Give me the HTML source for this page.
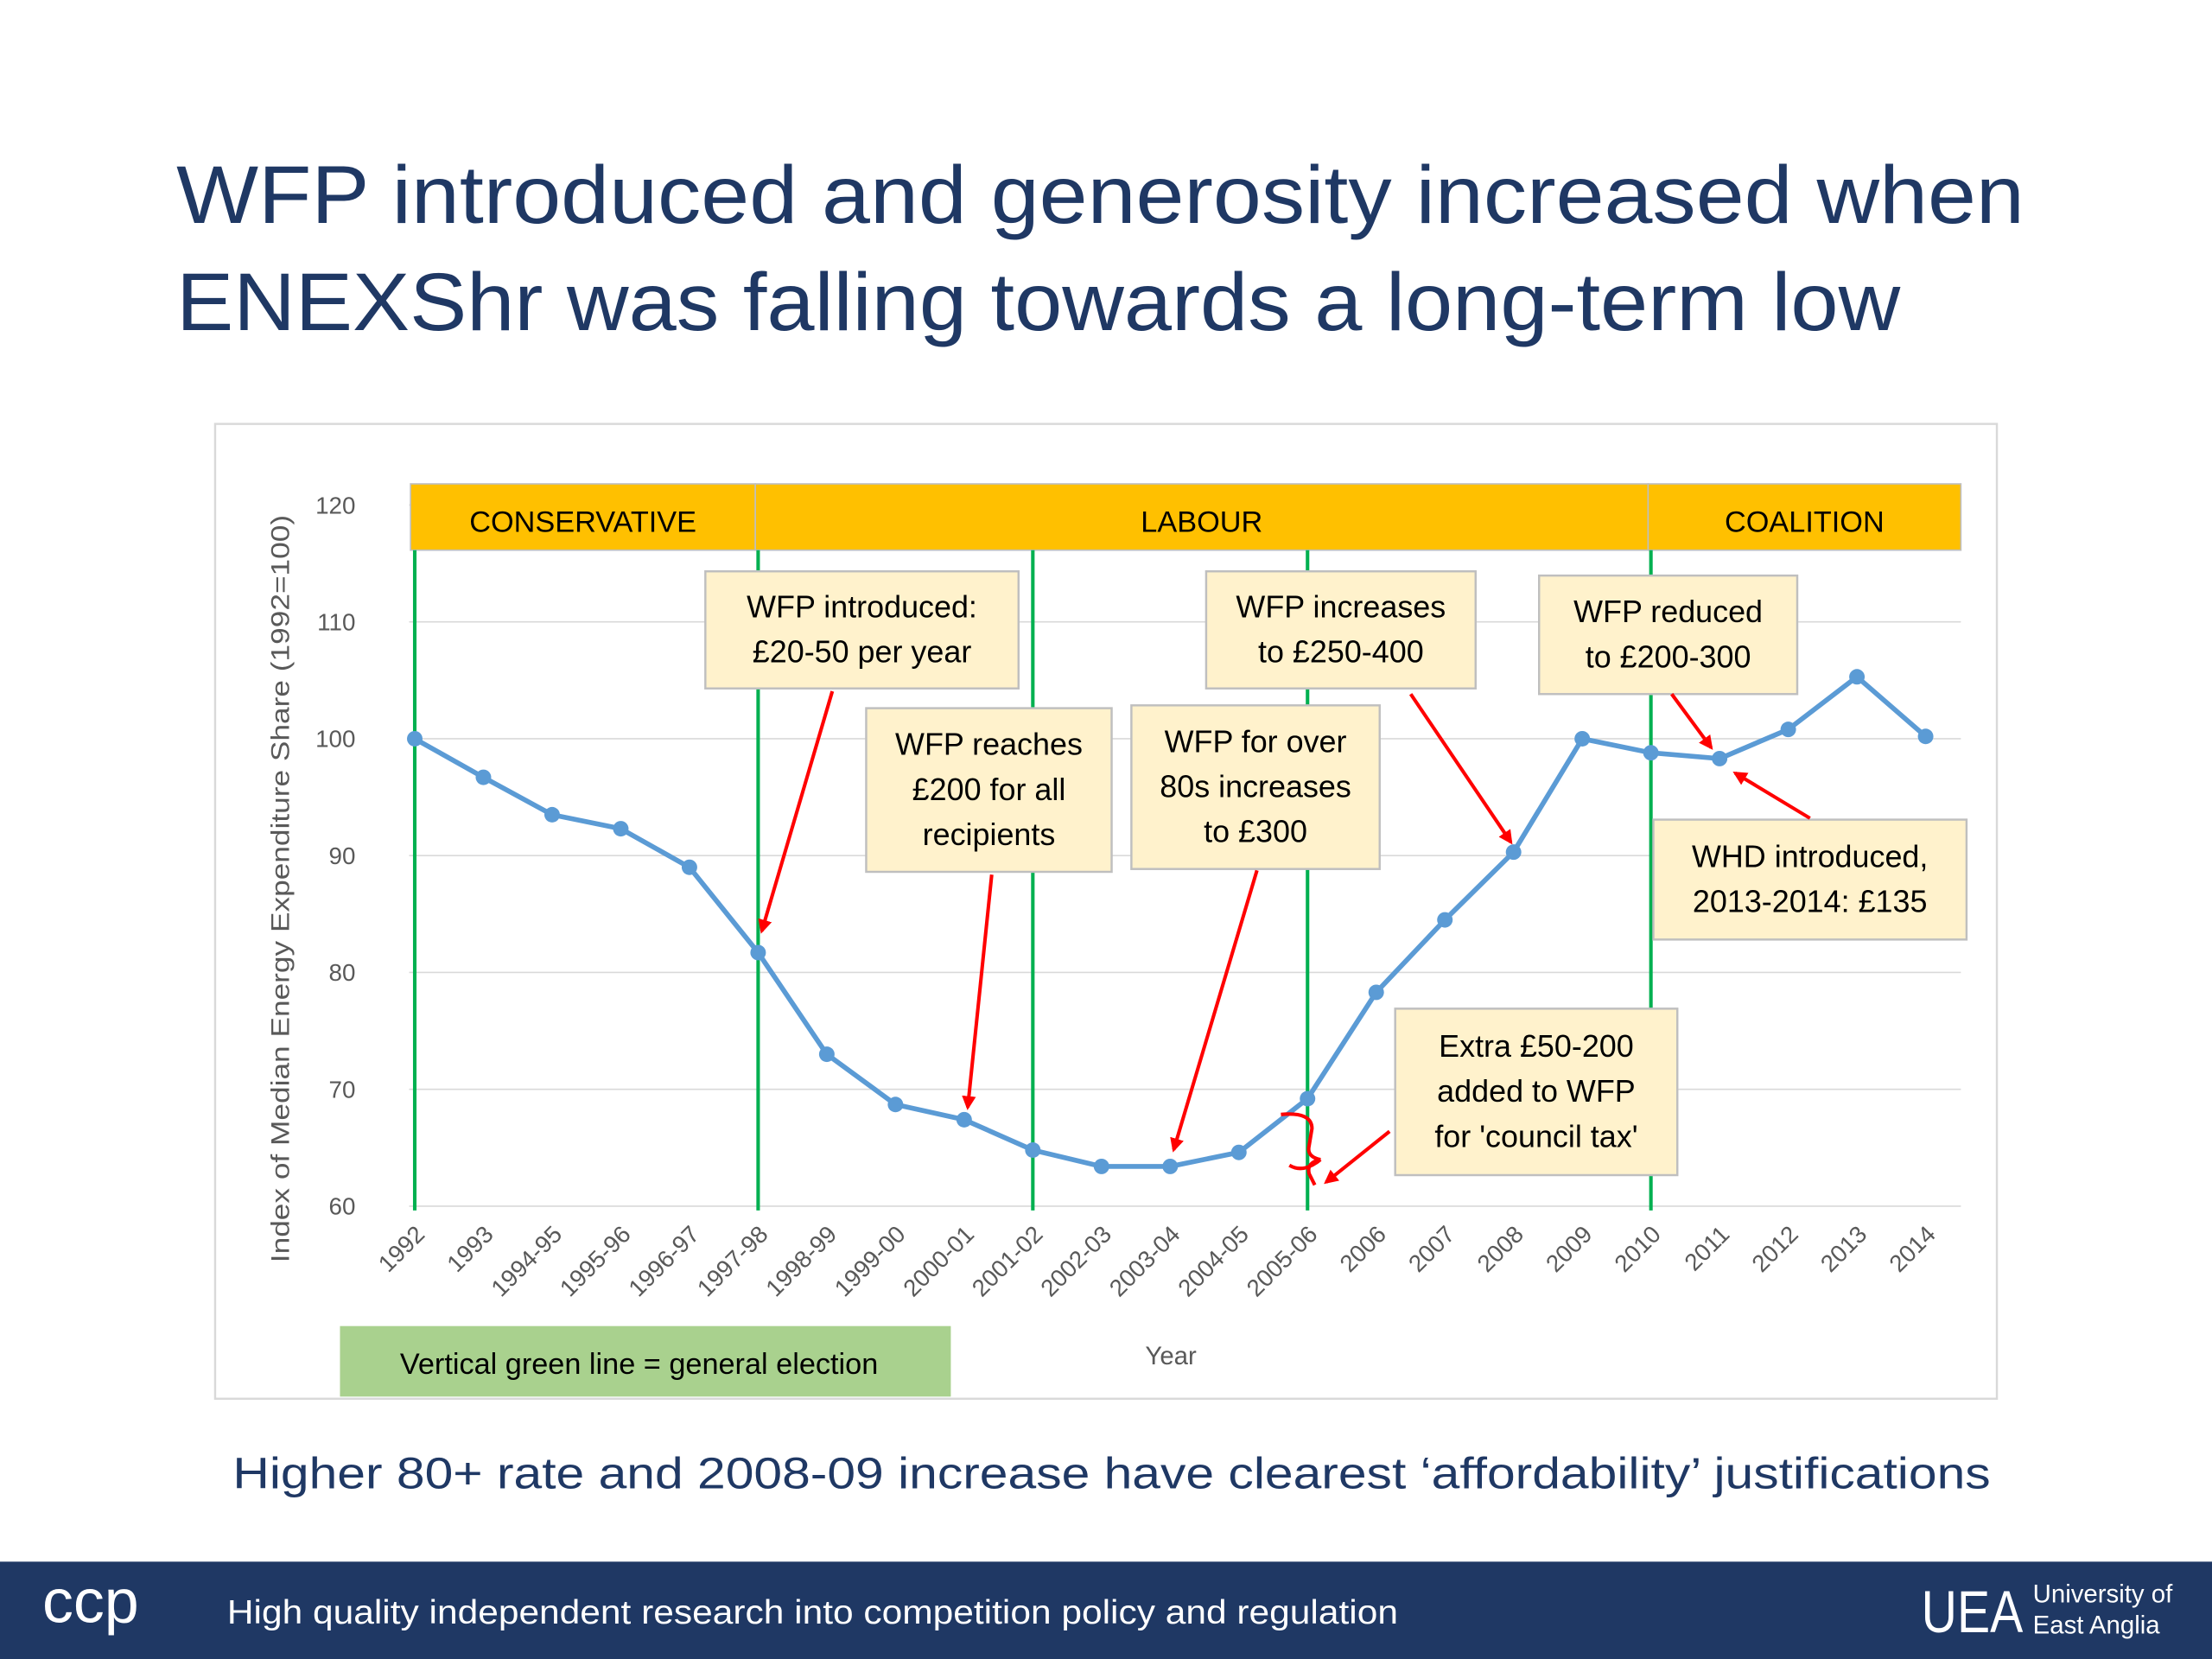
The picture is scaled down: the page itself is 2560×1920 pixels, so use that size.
<!DOCTYPE html>
<html><head><meta charset="utf-8"><style>
html,body{margin:0;padding:0;background:#fff;}
svg{display:block;}
text{font-family:"Liberation Sans",sans-serif;}
</style></head><body>
<svg id="chart" width="2560" height="1920" viewBox="0 0 1568 1176" xmlns="http://www.w3.org/2000/svg">
<defs>
<marker id="ah" markerWidth="10" markerHeight="10" refX="8" refY="5" orient="auto" markerUnits="userSpaceOnUse"><path d="M0,0 L10,5 L0,10 z" fill="#ff0000"/></marker>
</defs>
<text x="125" y="158" font-size="58" fill="#1f3864" textLength="1310" lengthAdjust="spacingAndGlyphs">WFP introduced and generosity increased when</text>
<text x="125" y="234" font-size="58" fill="#1f3864" textLength="1222" lengthAdjust="spacingAndGlyphs">ENEXShr was falling towards a long-term low</text>
<rect x="152.5" y="300.5" width="1263" height="691" fill="#fff" stroke="#d9d9d9" stroke-width="1.5"/>
<g id="grid"></g>
<g id="yticks"></g>
<g id="bands"></g>
<g id="elections"></g>
<g id="series"></g>
<g id="xticks"></g>
<text transform="translate(205,630) rotate(-90)" text-anchor="middle" font-size="18" fill="#595959" textLength="530" lengthAdjust="spacingAndGlyphs">Index of Median Energy Expenditure Share (1992=100)</text>
<text x="830" y="967" text-anchor="middle" font-size="18" fill="#595959">Year</text>
<rect x="241" y="940" width="433" height="50" fill="#a9d18e"/>
<text x="453" y="974" text-anchor="middle" font-size="21" fill="#000">Vertical green line = general election</text>
<g id="notes"></g>
<path d="M908,790 Q930,788 930,800 L928,812 Q926,820 936,822 Q926,824 928,832 L932,840 M914,826 Q924,832 936,822" fill="none" stroke="#ff0000" stroke-width="2.5"/>
<text x="788" y="1055" text-anchor="middle" font-size="31" fill="#1f3864" textLength="1246" lengthAdjust="spacingAndGlyphs">Higher 80+ rate and 2008-09 increase have clearest ‘affordability’ justifications</text>
<rect x="0" y="1107" width="1568" height="69" fill="#1f3864"/>
<text x="30" y="1150" font-size="44" fill="#fff">ccp</text>
<text x="161" y="1151" font-size="24" fill="#fff" textLength="830" lengthAdjust="spacingAndGlyphs">High quality independent research into competition policy and regulation</text>
<text x="1362" y="1157" font-size="42" fill="#fff" font-family="Liberation Serif" textLength="72" lengthAdjust="spacingAndGlyphs">UEA</text>
<text x="1441" y="1136" font-size="18" fill="#fff">University of</text>
<text x="1441" y="1158" font-size="18" fill="#fff">East Anglia</text>
</svg>
<script>
const categories=["1992","1993","1994-95","1995-96","1996-97","1997-98","1998-99","1999-00","2000-01","2001-02","2002-03","2003-04","2004-05","2005-06","2006","2007","2008","2009","2010","2011","2012","2013","2014"];
const values=[100,96.7,93.5,92.3,89,81.7,73,68.7,67.4,64.8,63.4,63.4,64.6,69.2,78.3,84.5,90.3,100,98.8,98.3,100.8,105.3,100.2];
const yTicks=[60,70,80,90,100,110,120];
const elections=[0,5,9,13,18];
const parties=["CONSERVATIVE","LABOUR","COALITION"];
const partyStart=[0,5,18];
const partyEnd=[5,18,22.5];
const NS="http://www.w3.org/2000/svg";
function X(i){return 294+i*(1365-294)/22;}
function Y(v){return 855-(v-60)*(855-358)/60;}
function mk(tag,attrs,parent,txt){const e=document.createElementNS(NS,tag);for(const k in attrs)e.setAttribute(k,attrs[k]);if(txt!==undefined)e.textContent=txt;parent.appendChild(e);return e;}
const grid=document.getElementById('grid'),yt=document.getElementById('yticks');
yTicks.forEach(v=>{
 const l=mk('line',{x1:290,x2:1390,y1:Y(v),y2:Y(v),stroke:'#d9d9d9','stroke-width':1},grid);
 
 
 const t=mk('text',{x:252,y:Y(v)+6,'text-anchor':'end','font-size':17,fill:'#595959'},yt,String(v));
 
 
});
const bands=document.getElementById('bands');
parties.forEach((p,i)=>{
 const x0=i===0?291:X(partyStart[i])-2,x1=i===2?1390:X(partyEnd[i])-2;
 const r=mk('rect',{x:x0,y:343,width:x1-x0,height:47,fill:'#ffc000',stroke:'#bfbfbf','stroke-width':1},bands);
 
 
 const t=mk('text',{x:(x0+x1)/2,y:377,'text-anchor':'middle','font-size':21,fill:'#000'},bands,p);
 
 
});
const el=document.getElementById('elections');
elections.forEach(i=>{
 const l=mk('line',{x1:X(i),x2:X(i),y1:390,y2:858,stroke:'#00b050','stroke-width':2.5},el);
 
 
});
const s=document.getElementById('series');
const pl=mk('polyline',{points:values.map((v,i)=>X(i)+','+Y(v)).join(' '),fill:'none',stroke:'#5b9bd5','stroke-width':3.5,'stroke-linejoin':'round'},s);


values.forEach((v,i)=>{
 const c=mk('circle',{cx:X(i),cy:Y(v),r:5.5,fill:'#5b9bd5'},s);
 
 
});
const xt=document.getElementById('xticks');
categories.forEach((c,i)=>{
 const t=mk('text',{transform:`translate(${X(i)+8},${876}) rotate(-45)`,'text-anchor':'end','font-size':17,fill:'#595959'},xt,c);
 
 
});
const notes=[
 {x:500,y:405,w:222,h:83,l:["WFP introduced:","£20-50 per year"],a:[590,490,540,660]},
 {x:614,y:502,w:174,h:116,l:["WFP reaches","£200 for all","recipients"],a:[703,620,686,785]},
 {x:802,y:500,w:176,h:116,l:["WFP for over","80s increases","to £300"],a:[891,617,832,815]},
 {x:855,y:405,w:191,h:83,l:["WFP increases","to £250-400"],a:[1000,492,1071,597]},
 {x:1091,y:408,w:183,h:84,l:["WFP reduced","to £200-300"],a:[1185,492,1213,530]},
 {x:1172,y:581,w:222,h:85,l:["WHD introduced,","2013-2014: £135"],a:[1283,580,1230,548]},
 {x:989,y:715,w:200,h:118,l:["Extra £50-200","added to WFP","for 'council tax'"],a:[985,802,940,838]}
];
const ng=document.getElementById('notes');
notes.forEach(n=>{
 const r=mk('rect',{x:n.x,y:n.y,width:n.w,height:n.h,fill:'#fff2cc',stroke:'#bfbfbf','stroke-width':1.5},ng);
 
 
 const lh=32,top=n.y+n.h/2-(n.l.length*lh)/2+lh*0.72;
 n.l.forEach((s,k)=>{
  const t=mk('text',{x:n.x+n.w/2,y:top+k*lh,'text-anchor':'middle','font-size':22,fill:'#000'},ng,s);
  
  
 });
 const a=mk('line',{x1:n.a[0],y1:n.a[1],x2:n.a[2],y2:n.a[3],stroke:'#ff0000','stroke-width':2.5,'marker-end':'url(#ah)'},ng);
 
 
});
</script>
</body></html>
